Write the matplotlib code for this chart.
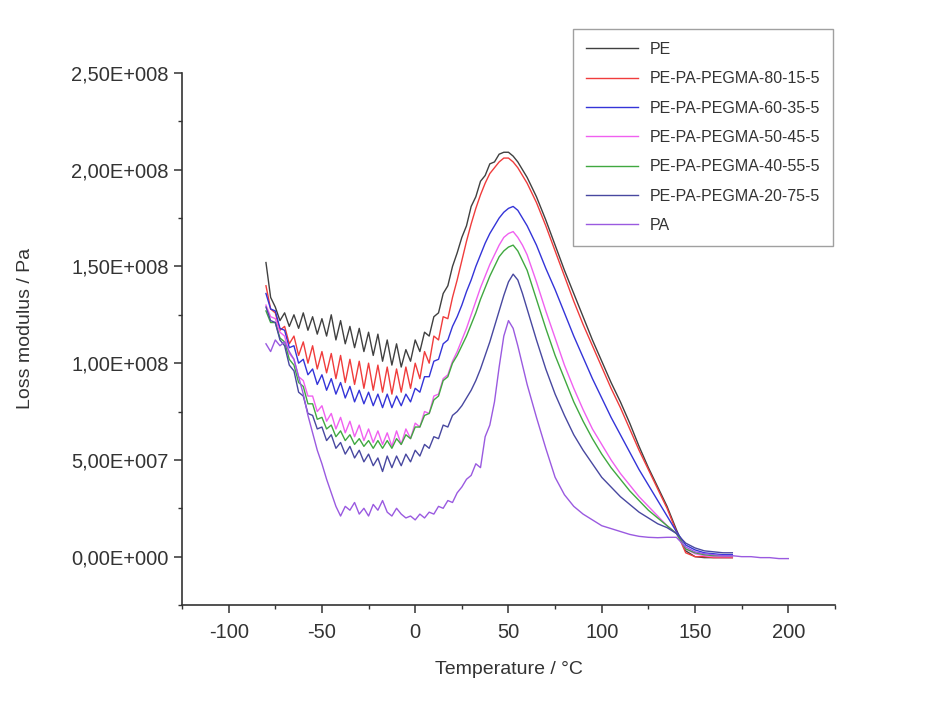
import numpy as np
import matplotlib
matplotlib.use("Agg")
import matplotlib.pyplot as plt
from matplotlib.ticker import MultipleLocator

plt.rcParams['font.family'] = ['Liberation Sans', 'DejaVu Sans']
plt.rcParams['axes.unicode_minus'] = False

# Temperature grid (degC)
temp = [-80, -77.5, -75, -72.5, -70, -67.5, -65, -62.5, -60, -57.5, -55, -52.5, -50, -47.5,
        -45, -42.5, -40, -37.5, -35, -32.5, -30, -27.5, -25, -22.5, -20, -17.5, -15, -12.5,
        -10, -7.5, -5, -2.5, 0, 2.5, 5, 7.5, 10, 12.5, 15, 17.5, 20, 22.5, 25, 27.5,
        30, 32.5, 35, 37.5, 40, 42.5, 45, 47.5, 50, 52.5, 55, 57.5, 60,
        65, 70, 75, 80, 85, 90, 95, 100, 105, 110, 115, 120, 125, 130, 135, 140,
        145, 150, 155, 160, 165, 170]
temp_pa = temp + [175, 180, 185, 190, 195, 200]

# Loss modulus in units of 1e7 Pa
pe = [15.2, 13.4, 12.9, 12.2, 12.6, 11.9, 12.5, 11.8, 12.6, 11.7, 12.4, 11.5, 12.3, 11.4,
      12.5, 11.2, 12.2, 11.0, 11.9, 10.8, 11.8, 10.6, 11.6, 10.4, 11.5, 10.1, 11.2, 9.9,
      11.0, 9.8, 10.7, 10.1, 11.2, 10.6, 11.6, 11.4, 12.4, 12.6, 13.6, 14.0, 15.0, 15.7, 16.5, 17.1,
      18.1, 18.6, 19.4, 19.7, 20.3, 20.4, 20.8, 20.9, 20.9, 20.7, 20.4, 20.0, 19.6,
      18.6, 17.4, 16.1, 14.8, 13.6, 12.4, 11.2, 10.1, 9.0, 8.0, 6.9, 5.7, 4.6, 3.6, 2.6, 1.4,
      0.3, 0.0, -0.05, -0.05, -0.05, -0.05]
pe_80 = [14.0, 12.8, 12.6, 11.7, 11.9, 11.0, 11.4, 10.4, 11.1, 10.0, 10.9, 9.7, 10.6, 9.5,
         10.5, 9.2, 10.4, 9.0, 10.2, 8.9, 10.1, 8.7, 10.0, 8.6, 9.9, 8.5, 9.8, 8.4,
         9.7, 8.5, 9.8, 8.7, 10.0, 9.2, 10.6, 10.0, 11.4, 11.2, 12.4, 12.3, 13.4, 14.3, 15.3, 16.3,
         17.2, 18.0, 18.7, 19.3, 19.8, 20.1, 20.4, 20.6, 20.6, 20.4, 20.1, 19.7, 19.3,
         18.3, 17.1, 15.8, 14.5, 13.2, 12.0, 10.9, 9.8, 8.7, 7.7, 6.6, 5.5, 4.5, 3.5, 2.5, 1.3,
         0.2, 0.0, 0.0, -0.05, -0.05, -0.05]
pe_60 = [13.6, 12.8, 12.7, 11.8, 11.7, 10.8, 10.9, 10.0, 10.2, 9.4, 9.7, 8.9, 9.4, 8.6,
         9.2, 8.4, 9.0, 8.2, 8.8, 8.0, 8.6, 7.9, 8.5, 7.8, 8.4, 7.7, 8.4, 7.7,
         8.3, 7.8, 8.4, 8.0, 8.7, 8.5, 9.3, 9.3, 10.1, 10.2, 11.0, 11.2, 11.9, 12.4, 13.0, 13.7,
         14.3, 15.0, 15.6, 16.2, 16.7, 17.1, 17.5, 17.8, 18.0, 18.1, 17.9, 17.5, 17.1,
         16.1, 14.9, 13.8, 12.6, 11.4, 10.3, 9.2, 8.2, 7.2, 6.3, 5.4, 4.5, 3.7, 2.9, 2.1, 1.3,
         0.6, 0.35, 0.2, 0.15, 0.1, 0.1]
pe_50 = [13.0, 12.4, 12.3, 11.6, 11.4, 10.5, 10.2, 9.3, 9.1, 8.3, 8.3, 7.5, 7.8, 7.0,
         7.4, 6.6, 7.2, 6.4, 7.0, 6.2, 6.8, 6.0, 6.6, 5.9, 6.5, 5.8, 6.4, 5.7,
         6.5, 5.8, 6.6, 6.1, 6.9, 6.7, 7.5, 7.4, 8.3, 8.4, 9.2, 9.4, 10.1, 10.6, 11.2, 11.8,
         12.5, 13.2, 13.9, 14.5, 15.1, 15.6, 16.1, 16.5, 16.7, 16.8, 16.5, 16.1, 15.6,
         14.2, 12.7, 11.3, 9.9, 8.7, 7.6, 6.6, 5.8, 5.0, 4.3, 3.7, 3.1, 2.6, 2.1, 1.6, 1.2,
         0.4, 0.15, 0.05, 0.0, 0.0, 0.0]
pe_40 = [12.7, 12.1, 12.1, 11.3, 11.1, 10.2, 9.9, 9.0, 8.8, 7.9, 7.9, 7.1, 7.2, 6.6,
         6.8, 6.2, 6.5, 6.0, 6.3, 5.8, 6.1, 5.7, 6.0, 5.6, 6.0, 5.6, 6.0, 5.6,
         6.1, 5.8, 6.3, 6.1, 6.7, 6.7, 7.3, 7.4, 8.1, 8.3, 9.1, 9.3, 10.0, 10.4, 10.9, 11.4,
         12.0, 12.6, 13.3, 13.9, 14.5, 15.0, 15.5, 15.8, 16.0, 16.1, 15.8, 15.3, 14.8,
         13.3, 11.8, 10.4, 9.2, 8.0, 7.0, 6.1, 5.3, 4.6, 4.0, 3.4, 2.9, 2.4, 2.0, 1.6, 1.2,
         0.4, 0.2, 0.1, 0.05, 0.05, 0.05]
pe_20 = [12.9, 12.2, 12.1, 11.2, 10.9, 9.9, 9.6, 8.5, 8.3, 7.4, 7.3, 6.6, 6.7, 6.0,
         6.3, 5.6, 5.9, 5.3, 5.7, 5.1, 5.5, 4.9, 5.3, 4.7, 5.1, 4.4, 5.2, 4.6,
         5.2, 4.7, 5.3, 4.9, 5.5, 5.2, 5.8, 5.6, 6.2, 6.1, 6.8, 6.7, 7.3, 7.5, 7.8, 8.2,
         8.6, 9.1, 9.7, 10.4, 11.1, 11.9, 12.7, 13.5, 14.2, 14.6, 14.3, 13.6, 12.8,
         11.2, 9.7, 8.4, 7.3, 6.3, 5.5, 4.8, 4.1, 3.6, 3.1, 2.7, 2.3, 2.0, 1.7, 1.5, 1.2,
         0.7, 0.45, 0.3, 0.25, 0.2, 0.2]
pa = [11.0, 10.6, 11.2, 10.9, 11.1, 10.6, 10.2, 9.3, 8.4, 7.3, 6.4, 5.5, 4.8, 4.0,
      3.3, 2.6, 2.1, 2.6, 2.4, 2.8, 2.2, 2.5, 2.1, 2.7, 2.4, 2.9, 2.3, 2.1,
      2.5, 2.2, 2.0, 2.1, 1.9, 2.2, 2.0, 2.3, 2.2, 2.6, 2.5, 2.9, 2.8, 3.3, 3.6, 4.0,
      4.2, 4.8, 4.6, 6.2, 6.8, 8.0, 9.8, 11.4, 12.2, 11.8, 10.9, 9.9, 8.9,
      7.2, 5.6, 4.1, 3.2, 2.6, 2.2, 1.9, 1.6, 1.45, 1.3, 1.15, 1.05, 1.0, 0.98, 1.0, 1.0,
      0.5, 0.25, 0.15, 0.1, 0.05, 0.05, 0.0, 0.0, -0.05, -0.05, -0.1, -0.1]

labels = ["PE", "PE-PA-PEGMA-80-15-5", "PE-PA-PEGMA-60-35-5", "PE-PA-PEGMA-50-45-5",
          "PE-PA-PEGMA-40-55-5", "PE-PA-PEGMA-20-75-5", "PA"]
series = [pe, pe_80, pe_60, pe_50, pe_40, pe_20, pa]
colors = ['#404040', '#f03c3c', '#3434d8', '#f060f0', '#40a840', '#4848a0', '#9a5ae0']

y_ticks = [0, 5e7, 1e8, 1.5e8, 2e8, 2.5e8]
y_tick_labels = ['0,00E+000', '5,00E+007', '1,00E+008', '1,50E+008', '2,00E+008', '2,50E+008']

fig = plt.figure(figsize=(9.49, 7.22), dpi=100)
ax = fig.add_axes([0.1918, 0.162, 0.688, 0.737])

for label, vals, color in zip(labels, series, colors):
    x = temp_pa if label == "PA" else temp
    ax.plot(x, np.array(vals) * 1e7, color=color, linewidth=1.0, label=label)

ax.set_xlim(-125, 225)
ax.set_ylim(-2.5e7, 2.5e8)
ax.xaxis.set_major_locator(MultipleLocator(50))
ax.xaxis.set_minor_locator(MultipleLocator(25))
ax.set_yticks(y_ticks)
ax.set_yticklabels(y_tick_labels)
ax.yaxis.set_minor_locator(MultipleLocator(2.5e7))

for side in ['top', 'right']:
    ax.spines[side].set_visible(False)
for side in ['left', 'bottom']:
    ax.spines[side].set_linewidth(1.2)
    ax.spines[side].set_color('#333333')
ax.tick_params(which='major', direction='out', length=6, width=1.1, colors='#333333',
               labelsize=14.5, labelcolor='#333333')
ax.tick_params(axis='x', which='major', pad=7)
ax.tick_params(which='minor', direction='out', length=3, width=1.0, colors='#333333')

ax.set_xlabel('Temperature / °C', fontsize=14, color='#333333')
ax.set_ylabel('Loss modulus / Pa', fontsize=14, color='#333333')
ax.xaxis.set_label_coords(0.5, -0.105)
ax.yaxis.set_label_coords(-0.226, 0.52)

leg = ax.legend(loc='upper right', bbox_to_anchor=(833 / 949, 1 - 29 / 722),
                bbox_transform=fig.transFigure, borderaxespad=0, fontsize=11.5,
                frameon=True, fancybox=False, handlelength=3.25, handletextpad=0.75,
                labelspacing=0.9, borderpad=0.8)
leg.get_frame().set_edgecolor('#888888')
leg.get_frame().set_linewidth(1.0)
for t in leg.get_texts():
    t.set_color('#333333')

fig.savefig('out.png', dpi=100)
